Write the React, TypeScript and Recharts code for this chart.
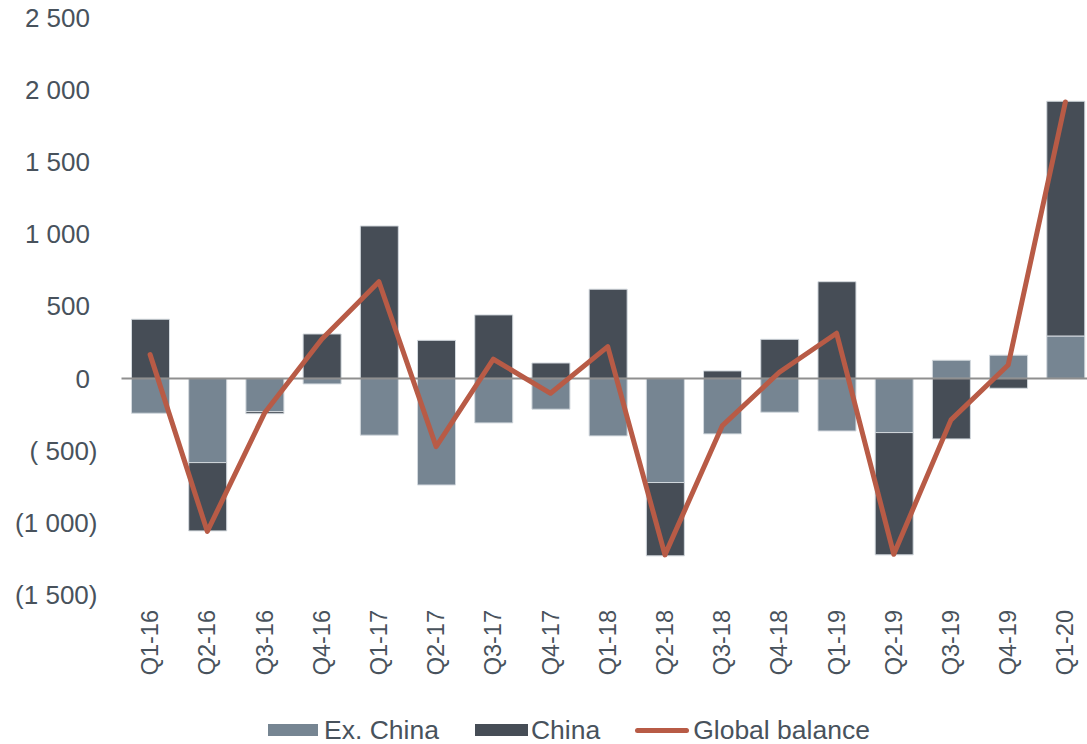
import { ComposedChart, Bar, Line, XAxis, YAxis, ReferenceLine } from 'recharts'

// quarterly balance, thousand tonnes
const quarters = [
  'Q1-16', 'Q2-16', 'Q3-16', 'Q4-16',
  'Q1-17', 'Q2-17', 'Q3-17', 'Q4-17',
  'Q1-18', 'Q2-18', 'Q3-18', 'Q4-18',
  'Q1-19', 'Q2-19', 'Q3-19', 'Q4-19',
  'Q1-20',
]
const exChina = [-241, -583, -230, -38, -393, -738, -308, -213, -398, -721, -384, -234, -364, -375, 126, 161, 294]
const china = [410, -473, -14, 308, 1056, 264, 440, 107, 618, -508, 52, 271, 670, -847, -419, -68, 1626]
const globalBalance = [165, -1060, -240, 271, 670, -472, 133, -103, 220, -1222, -329, 43, 313, -1218, -287, 93, 1915]

const yTicks = [-1500, -1000, -500, 0, 500, 1000, 1500, 2000, 2500]
const yTickLabels = ['(1 500)', '(1 000)', '( 500)', '0', '500', '1 000', '1 500', '2 000', '2 500']

const data = quarters.map((q, i) => ({
  q,
  exChina: exChina[i],
  china: china[i],
  global: globalBalance[i],
}))

const FONT = '"Liberation Sans", Arial, sans-serif'
const TEXT = '#48525c'
const EX_CHINA = '#768592'
const CHINA = '#464d56'
const GLOBAL = '#b85b46'

function YTick({ x, y, payload }: any) {
  const idx = yTicks.indexOf(payload.value)
  const label = idx >= 0 ? yTickLabels[idx] : String(payload.value)
  // accounting style: positive numbers leave room for the closing bracket
  const dx = payload.value < 0 ? 0 : -7.5
  return (
    <text
      x={x + dx}
      y={y}
      dy="0.355em"
      textAnchor="end"
      fill={TEXT}
      fontSize={26}
      fontFamily={FONT}
    >
      {label}
    </text>
  )
}

function XTick({ x, y, payload }: any) {
  return (
    <text
      x={x}
      y={y}
      transform={`rotate(-90, ${x}, ${y})`}
      textAnchor="end"
      dominantBaseline="central"
      fill={TEXT}
      fontSize={23.5}
      fontFamily={FONT}
    >
      {payload.value}
    </text>
  )
}

export default function App() {
  return (
    <div
      style={{
        position: 'absolute',
        left: 0,
        top: 0,
        width: 1087,
        height: 744,
        overflow: 'hidden',
        background: '#fff',
        fontFamily: FONT,
      }}
    >
      <ComposedChart
        width={1094}
        height={744}
        data={data}
        stackOffset="sign"
        margin={{ top: 17.5, right: 0, bottom: 0, left: 0 }}
      >
        <XAxis
          dataKey="q"
          height={149}
          interval={0}
          tickLine={false}
          axisLine={false}
          tickSize={0}
          tickMargin={15}
          tick={<XTick />}
        />
        <YAxis
          domain={[-1500, 2500]}
          ticks={yTicks}
          width={121.5}
          tickLine={false}
          axisLine={false}
          tickSize={0}
          tickMargin={24}
          tick={<YTick />}
        />
        <Bar
          dataKey="exChina"
          stackId="a"
          fill={EX_CHINA}
          stroke="#d3d9de"
          strokeWidth={1}
          barSize={38}
          isAnimationActive={false}
        />
        <Bar
          dataKey="china"
          stackId="a"
          fill={CHINA}
          stroke="#d3d9de"
          strokeWidth={1}
          barSize={38}
          isAnimationActive={false}
        />
        <ReferenceLine y={0} stroke="#8f8f8f" strokeWidth={2} />
        <Line
          type="linear"
          dataKey="global"
          stroke={GLOBAL}
          strokeWidth={5}
          strokeLinecap="round"
          strokeLinejoin="round"
          dot={false}
          activeDot={false}
          isAnimationActive={false}
        />
      </ComposedChart>

      {/* legend */}
      <div
        style={{
          position: 'absolute',
          left: 268,
          top: 717,
          display: 'flex',
          alignItems: 'center',
          fontSize: 26.5,
          lineHeight: '26px',
          color: TEXT,
          whiteSpace: 'nowrap',
        }}
      >
        <span style={{ width: 50, height: 12, background: EX_CHINA, display: 'inline-block' }} />
        <span style={{ marginLeft: 6 }}>Ex. China</span>
        <span style={{ width: 53, height: 12, background: CHINA, display: 'inline-block', marginLeft: 36 }} />
        <span style={{ marginLeft: 3 }}>China</span>
        <span
          style={{
            width: 54,
            height: 5,
            borderRadius: 3,
            background: GLOBAL,
            display: 'inline-block',
            marginLeft: 35,
          }}
        />
        <span style={{ marginLeft: 4 }}>Global balance</span>
      </div>
    </div>
  )
}
